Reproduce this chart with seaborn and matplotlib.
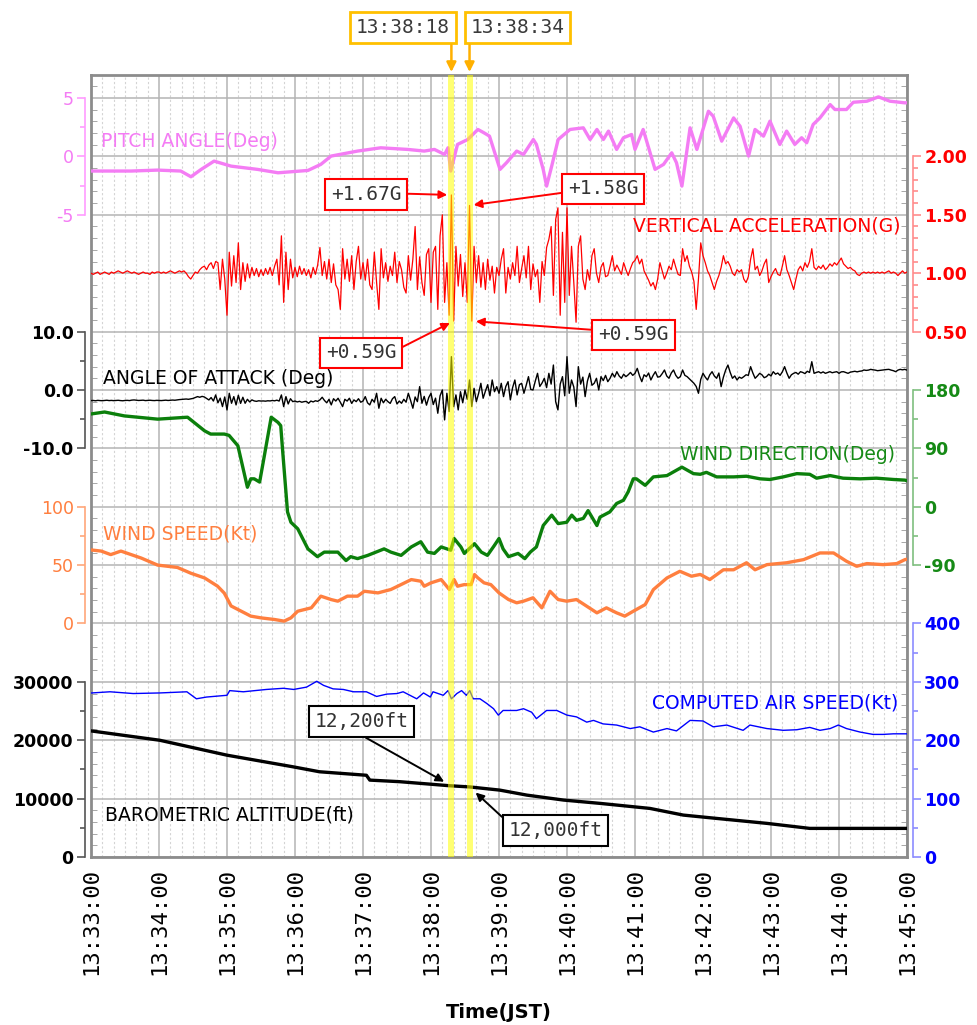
import matplotlib
matplotlib.use('Agg')
import matplotlib.pyplot as plt
import seaborn as sns
from matplotlib.ticker import MultipleLocator

# ---- data (time in minutes after 13:33:00 JST) ----
time_labels = ['13:33:00', '13:34:00', '13:35:00', '13:36:00', '13:37:00', '13:38:00', '13:39:00',
               '13:40:00', '13:41:00', '13:42:00', '13:43:00', '13:44:00', '13:45:00']

pitch_t = [0, 0.59, 0.98, 1.32, 1.47, 1.62, 1.81, 2.06, 2.45, 2.75,
           3.19, 3.38, 3.53, 3.92, 4.26, 4.66, 4.90, 5.05, 5.20, 5.25,
           5.29, 5.39, 5.54, 5.69, 5.78, 5.86, 6.015, 6.11, 6.26, 6.36,
           6.505, 6.55, 6.65, 6.70, 6.775, 6.87, 7.045, 7.24, 7.34, 7.44,
           7.535, 7.61, 7.73, 7.83, 7.95, 8.0, 8.12, 8.295, 8.42, 8.54,
           8.61, 8.69, 8.81, 8.91, 9.08, 9.15, 9.275, 9.45, 9.545, 9.67,
           9.765, 9.89, 9.985, 10.13, 10.23, 10.35, 10.45, 10.525, 10.62, 10.72,
           10.87, 10.94, 11.11, 11.21, 11.41, 11.58, 11.75, 11.97, 12.0]
pitch_deg = [-1.25, -1.25, -1.17, -1.25, -1.74, -1.11, -0.4, -0.83, -1.11, -1.4,
             -1.2, -0.68, 0.03, 0.46, 0.74, 0.6, 0.46, 0.6, 0.17, 0.74,
             -1.25, 1.03, 1.45, 2.31, 2.02, 1.74, -1.11, -0.54, 0.46, 0.17,
             1.45, 1.03, -1.11, -2.54, -0.83, 1.45, 2.31, 2.45, 1.45, 2.31,
             1.45, 2.17, 0.6, 1.6, 1.88, 0.6, 2.31, -1.11, -0.68, 0.31,
             -0.54, -2.54, 2.45, 0.6, 3.87, 3.45, 1.31, 3.3, 2.59, 0.03,
             2.31, 1.74, 3.02, 1.03, 2.17, 1.03, 1.6, 1.17, 2.74, 3.3,
             4.44, 4.02, 4.02, 4.64, 4.73, 5.1, 4.73, 4.59, 4.6]

# vertical acceleration and angle of attack: one sample every 2 s from 13:33:00 (one row per minute)
sample_step_s = 2
accel_g = [
    1.00, 0.99, 1.00, 1.01, 0.99, 1.00, 1.01, 1.00, 0.99, 1.01, 1.00, 1.01, 1.02, 1.01, 1.00,
    1.01, 1.02, 1.01, 1.00, 1.01, 1.00, 0.99, 1.00, 1.01, 1.00, 1.00, 0.99, 1.01, 1.00, 1.01,
    1.01, 1.00, 1.01, 1.00, 1.01, 1.02, 1.01, 1.00, 1.01, 1.02, 1.01, 1.02, 1.00, 0.97, 0.95,
    0.98, 1.01, 1.00, 1.03, 1.05, 1.06, 1.03, 1.07, 1.09, 1.04, 1.10, 1.09, 0.86, 1.12, 0.95,
    0.64, 1.18, 0.89, 1.15, 0.92, 1.26, 0.86, 1.09, 0.93, 1.08, 0.96, 1.05, 0.98, 1.04, 0.97,
    1.03, 0.98, 1.04, 0.99, 1.05, 0.98, 1.06, 1.12, 0.90, 1.32, 0.75, 1.18, 0.86, 1.12, 0.96,
    1.05, 0.97, 1.06, 0.99, 1.04, 0.98, 1.03, 0.96, 1.05, 0.99, 1.07, 1.22, 0.98, 1.10, 0.95,
    1.12, 0.92, 1.08, 0.90, 0.86, 0.69, 1.21, 0.95, 1.12, 0.93, 1.15, 0.86, 1.10, 1.23, 0.95,
    1.09, 0.94, 1.12, 0.90, 0.86, 1.18, 0.92, 0.69, 1.21, 0.96, 1.09, 0.93, 1.06, 0.98, 1.18,
    0.92, 1.10, 1.03, 0.88, 0.83, 1.15, 0.94, 1.12, 1.40, 0.86, 1.14, 0.92, 0.81, 1.16, 1.21,
    0.75, 1.18, 1.23, 0.69, 1.32, 1.50, 0.75, 1.09, 0.64, 1.67, 0.59, 1.23, 0.89, 1.16, 0.80,
    1.09, 0.75, 1.58, 0.59, 1.23, 0.92, 1.15, 0.88, 1.09, 0.86, 1.12, 0.94, 1.06, 0.83, 1.05,
    0.98, 1.12, 1.21, 0.83, 1.05, 0.95, 1.09, 0.98, 1.23, 0.92, 1.04, 1.15, 0.96, 1.23, 0.86,
    1.08, 0.97, 1.03, 0.75, 1.10, 0.98, 1.22, 1.29, 1.40, 0.81, 1.46, 1.56, 0.64, 1.35, 0.75,
    1.56, 0.81, 1.23, 0.92, 0.58, 1.23, 1.32, 0.95, 0.86, 1.03, 0.94, 1.15, 1.21, 1.00, 0.92,
    1.05, 1.09, 0.97, 0.98, 1.06, 1.15, 1.02, 1.07, 1.03, 0.99, 1.09, 1.03, 0.98, 1.04, 1.09,
    1.11, 1.15, 1.08, 1.12, 1.02, 0.98, 0.94, 0.89, 0.92, 0.86, 0.95, 1.09, 1.02, 0.95, 1.00,
    1.06, 1.03, 1.12, 1.05, 0.99, 0.98, 1.21, 1.10, 1.15, 1.06, 1.01, 0.93, 0.69, 0.95, 1.26,
    1.15, 1.09, 1.02, 0.98, 0.92, 0.86, 0.93, 0.98, 1.05, 1.15, 1.08, 1.10, 1.06, 1.00, 0.98,
    1.03, 1.01, 1.03, 0.95, 0.92, 0.97, 1.12, 1.21, 1.03, 1.06, 0.98, 1.02, 1.08, 1.12, 0.92,
    0.97, 1.01, 1.04, 0.99, 0.98, 1.06, 1.15, 1.03, 0.98, 0.92, 0.86, 0.95, 1.03, 1.06, 1.02,
    1.09, 1.05, 1.10, 1.21, 1.05, 1.03, 1.06, 1.04, 1.07, 1.03, 1.05, 1.08, 1.06, 1.09, 1.07,
    1.10, 1.13, 1.08, 1.06, 1.04, 1.05, 1.03, 1.02, 0.99, 0.98, 1.00, 1.01, 1.00, 1.01, 1.00,
    1.01, 1.00, 1.01, 1.00, 1.01, 1.00, 1.01, 1.02, 1.00, 1.01, 1.00, 0.98, 1.00, 1.02, 1.00,
    1.01]
aoa_deg = [
    -1.82, -1.80, -1.85, -1.78, -1.82, -1.84, -1.80, -1.76, -1.82, -1.79, -1.83, -1.80, -1.77, -1.82, -1.85,
    -1.80, -1.78, -1.82, -1.74, -1.71, -1.76, -1.80, -1.78, -1.75, -1.82, -1.79, -1.76, -1.80, -1.82, -1.78,
    -1.80, -1.82, -1.78, -1.75, -1.80, -1.77, -1.73, -1.76, -1.70, -1.65, -1.62, -1.58, -1.55, -1.60, -1.52,
    -1.45, -1.30, -1.14, -1.25, -1.10, -1.20, -1.45, -1.71, -1.30, -1.90, -0.85, -2.20, -1.40, -2.85, -1.20,
    -3.42, -0.57, -2.28, -1.14, -2.56, -0.90, -2.30, -1.25, -2.28, -1.60, -2.05, -1.70, -1.88, -1.95, -1.85,
    -1.90, -1.88, -1.92, -1.85, -1.88, -1.80, -1.86, -1.75, -1.90, -0.85, -2.85, -1.14, -2.40, -1.50, -2.00,
    -1.90, -2.05, -1.95, -2.10, -2.00, -1.95, -2.28, -1.90, -2.05, -1.85, -1.95, -1.70, -1.25, -1.80, -2.20,
    -1.60, -2.56, -1.50, -1.90, -1.42, -2.10, -2.85, -1.60, -1.90, -1.42, -2.30, -1.70, -2.00, -1.50, -2.10,
    -1.90, -1.14, -2.20, -2.56, -1.60, -2.10, -0.57, -3.13, -1.42, -2.20, -1.60, -2.00, -2.30, -1.50, -1.14,
    -2.40, -1.90, -2.28, -1.60, -2.10, -0.57, -1.80, -3.13, -1.20, -2.00, 0.57, -2.28, -1.10, -2.60, -1.30,
    -0.57, -2.50, -1.40, -3.99, -1.00, 0.00, -5.13, -0.57, -3.70, 5.70, -2.85, -0.85, -3.42, -0.30, -2.20,
    0.00, -1.60, 1.71, -2.85, 0.28, -2.00, -0.60, 1.14, -1.42, -0.20, 0.90, -1.00, 1.71, -0.30, 0.57,
    -0.57, 1.14, -1.14, 0.60, 1.42, -1.71, 0.40, 1.71, -0.85, 0.90, 1.14, -0.57, 0.80, 2.28, 0.10,
    0.00, 1.50, 2.85, 0.60, 1.20, 2.00, 0.40, 2.85, 1.00, 4.27, -2.00, -3.42, 1.00, 2.28, -1.00,
    5.70, -0.57, 1.71, 0.50, -2.85, 3.99, 1.00, 2.20, -1.14, 1.50, 2.85, 0.80, 1.14, 2.00, 0.00,
    2.28, 1.60, 2.50, 1.42, 2.00, 2.85, 2.20, 3.13, 2.40, 2.00, 2.70, 2.28, 2.60, 3.00, 2.50,
    2.85, 3.70, 2.40, 1.42, 2.60, 2.28, 2.90, 1.71, 2.50, 3.13, 2.20, 2.28, 2.80, 3.42, 2.40,
    2.00, 2.90, 3.42, 2.50, 2.00, 2.28, 3.42, 2.50, 2.28, 1.90, 1.50, 1.14, 0.60, -0.57, 1.80,
    2.85, 2.20, 1.71, 2.60, 3.13, 2.40, 2.00, 2.90, 0.57, 2.20, 3.42, 4.27, 3.00, 2.00, 2.40,
    1.71, 2.20, 2.00, 2.28, 2.60, 2.50, 3.99, 2.90, 2.00, 2.40, 2.85, 2.60, 2.10, 2.28, 2.70,
    2.40, 3.13, 2.70, 2.90, 2.50, 3.10, 3.99, 2.90, 2.00, 2.60, 2.85, 3.00, 2.70, 3.13, 3.00,
    2.80, 3.20, 3.00, 4.84, 2.85, 3.00, 3.13, 2.90, 3.10, 2.85, 3.00, 3.13, 2.95, 3.05, 3.13,
    2.85, 3.10, 3.13, 3.00, 2.85, 3.05, 3.13, 3.20, 3.10, 3.20, 3.25, 3.42, 3.35, 3.40, 3.53,
    3.45, 3.40, 3.30, 3.35, 3.40, 3.45, 3.50, 3.53, 3.40, 3.30, 3.13, 3.40, 3.53, 3.45, 3.53,
    3.40]

wdir_t = [0, 0.2, 0.49, 0.98, 1.42, 1.67, 1.76, 1.96, 2.03, 2.16,
          2.30, 2.35, 2.40, 2.48, 2.55, 2.65, 2.75, 2.79, 2.82, 2.89,
          2.94, 3.04, 3.19, 3.33, 3.43, 3.63, 3.75, 3.82, 3.92, 4.07,
          4.31, 4.41, 4.56, 4.71, 4.85, 4.95, 5.05, 5.15, 5.29, 5.34,
          5.44, 5.49, 5.59, 5.64, 5.74, 5.83, 5.93, 6.0, 6.06, 6.14,
          6.28, 6.38, 6.46, 6.55, 6.65, 6.775, 6.87, 6.995, 7.07, 7.14,
          7.24, 7.31, 7.44, 7.485, 7.63, 7.73, 7.83, 7.90, 7.975, 8.02,
          8.15, 8.27, 8.47, 8.69, 8.86, 8.96, 9.05, 9.2, 9.45, 9.64,
          9.84, 9.985, 10.18, 10.38, 10.57, 10.67, 10.87, 11.06, 11.31, 11.55,
          11.8, 11.97, 12.0]
wdir_deg = [143, 146, 140, 135, 138, 117, 112, 112, 110, 94,
            30, 43, 43, 38, 79, 138, 130, 125, 84, -8,
            -24, -34, -65, -77, -70, -70, -83, -77, -80, -75,
            -65, -70, -75, -62, -54, -70, -72, -62, -67, -49,
            -62, -72, -62, -57, -70, -75, -60, -49, -65, -77,
            -72, -80, -70, -62, -29, -13, -26, -24, -13, -21,
            -18, -6, -29, -16, -8, 5, 10, 23, 43, 43,
            33, 46, 48, 61, 51, 50, 53, 46, 46, 47,
            43, 42, 46, 51, 50, 44, 48, 44, 43, 44,
            42, 41, 40]

wspd_t = [0, 0.15, 0.29, 0.44, 0.74, 0.98, 1.27, 1.47, 1.67, 1.86,
          1.96, 2.06, 2.21, 2.35, 2.50, 2.70, 2.84, 2.94, 3.04, 3.24,
          3.38, 3.53, 3.63, 3.77, 3.92, 4.02, 4.22, 4.41, 4.51, 4.71,
          4.85, 4.90, 5.0, 5.15, 5.27, 5.34, 5.39, 5.49, 5.59, 5.64,
          5.69, 5.78, 5.88, 6.0, 6.14, 6.26, 6.36, 6.5, 6.63, 6.75,
          6.87, 6.995, 7.14, 7.29, 7.44, 7.58, 7.73, 7.85, 7.975, 8.15,
          8.27, 8.47, 8.66, 8.83, 8.96, 9.1, 9.3, 9.45, 9.64, 9.765,
          9.94, 10.23, 10.48, 10.72, 10.92, 11.11, 11.26, 11.41, 11.65, 11.85,
          11.97, 12.0]
wspd_kt = [63, 62, 59, 62, 56, 50, 48, 43, 39, 32,
           26, 15, 10.5, 6.3, 4.8, 3.4, 2.0, 4.8, 10.5, 13.4,
           23.4, 20.5, 19.1, 23.4, 23.4, 27.6, 26.2, 29.1, 31.9, 37.6,
           36.2, 31.9, 34.8, 37.6, 29.1, 37.6, 31.9, 33.3, 33.3, 41.9,
           39, 34.8, 33.3, 26.2, 20.5, 17.7, 19.1, 22, 13.4, 27.6,
           20.5, 19.1, 20.5, 14.8, 9.1, 13.4, 9.1, 6.3, 10.5, 16.2,
           29, 39, 44.7, 40.5, 42, 37.6, 46, 46, 52, 46,
           50.4, 52, 54.7, 60.4, 60.4, 53.3, 49, 51.3, 50.4, 51.3,
           54.7, 55]

cas_t = [0.01, 0.28, 0.62, 1.01, 1.41, 1.55, 1.70, 2.0, 2.04, 2.24,
         2.58, 2.83, 2.98, 3.17, 3.32, 3.42, 3.56, 3.71, 3.86, 4.05,
         4.20, 4.35, 4.50, 4.59, 4.79, 4.89, 4.99, 5.03, 5.18, 5.25,
         5.30, 5.38, 5.45, 5.52, 5.57, 5.62, 5.72, 5.82, 5.92, 5.99,
         6.06, 6.26, 6.36, 6.48, 6.55, 6.70, 6.85, 7.0, 7.14, 7.29,
         7.39, 7.53, 7.73, 7.93, 8.07, 8.27, 8.47, 8.61, 8.81, 9.0,
         9.15, 9.35, 9.59, 9.69, 9.94, 10.18, 10.38, 10.57, 10.72, 10.87,
         10.99, 11.11, 11.31, 11.5, 11.65, 11.8, 12.0]
cas_kt = [281, 283, 280, 281, 283, 271, 274, 277, 285, 283,
          287, 289, 287, 291, 301, 294, 288, 287, 283, 283,
          275, 279, 280, 283, 271, 281, 274, 283, 277, 285,
          271, 280, 285, 277, 285, 271, 271, 263, 254, 243,
          251, 251, 254, 248, 237, 251, 251, 243, 240, 231,
          234, 228, 226, 220, 223, 214, 220, 216, 234, 233,
          223, 226, 217, 226, 220, 217, 218, 222, 217, 220,
          226, 220, 214, 210, 210, 211, 211]

alt_t = [0.0, 1.01, 2.0, 2.97, 3.36, 4.05, 4.10, 4.54, 5.28, 5.57, 6.01,
         6.41, 6.95, 7.49, 8.22, 8.71, 9.2, 9.94, 10.57, 11.16, 12.0]
alt_ft = [21600, 20000, 17440, 15450, 14600, 14000, 13170, 12900, 12200, 12000, 11460,
          10600, 9750, 9180, 8320, 7180, 6610, 5760, 4900, 4900, 4900]

event_t = [5.30, 5.5667]
event_labels = ['13:38:18', '13:38:34']
g_mark_t = [5.30, 5.5667, 5.3333, 5.60]
g_mark_val = [1.67, 1.58, 0.59, 0.59]
g_mark_text = ['+1.67G', '+1.58G', '+0.59G', '+0.59G']
alt_mark_t = [5.30, 5.5667]
alt_mark_val = [12200, 12000]
alt_mark_text = ['12,200ft', '12,000ft']

accel_t = [i * sample_step_s / 60 for i in range(len(accel_g))]
aoa_t = [i * sample_step_s / 60 for i in range(len(aoa_deg))]

# ---- figure ----
W, H = 977, 1025
ROW = 58.38                 # pixels per grid row
TOP = 782 / ROW             # rows in plot height

fig = plt.figure(figsize=(W / 100, H / 100), dpi=100)
ax = fig.add_axes([91 / W, 1 - 857 / H, 816 / W, 782 / H])
ax.set_xlim(0, 12)
ax.set_ylim(0, TOP)


def scaled_axis(side, v0, row0, per_row, ticks, labels, minor, spine_c, label_c, weight):
    tw = ax.twinx()
    tw.set_ylim(v0 - row0 * per_row, v0 + (TOP - row0) * per_row)
    for s in tw.spines.values():
        s.set_visible(False)
    sp = tw.spines[side]
    sp.set_visible(True)
    sp.set_position(('outward', 4.5))
    sp.set_bounds(ticks[0], ticks[-1])
    sp.set_color(spine_c)
    sp.set_linewidth(1.2)
    if side == 'left':
        tw.yaxis.tick_left()
    tw.set_yticks(ticks, labels=labels)
    tw.set_yticks(minor, minor=True)
    tw.tick_params(axis='y', which='both', colors=spine_c, labelcolor=label_c,
                   width=1.2, direction='out')
    tw.tick_params(axis='y', which='major', length=6, pad=2, labelsize=12.5)
    tw.tick_params(axis='y', which='minor', length=3.5)
    for t in tw.get_yticklabels():
        t.set_fontweight(weight)
    return tw


PINK, RED, GREEN, ORANGE, BLUE = '#f47cf4', '#ff0000', '#0b7f0b', '#ff7f3f', '#0000ff'

ax_pitch = scaled_axis('left', 0, 12, 5, [-5, 0, 5], ['-5', '0', '5'], [-2.5, 2.5],
                       '#ff9cff', PINK, 'normal')
ax_acc = scaled_axis('right', 1.0, 10, 0.5, [0.5, 1.0, 1.5, 2.0], ['0.50', '1.00', '1.50', '2.00'],
                     [0.6, 0.7, 0.8, 0.9, 1.1, 1.2, 1.3, 1.4, 1.6, 1.7, 1.8, 1.9],
                     '#ff8c8c', RED, 'bold')
ax_aoa = scaled_axis('left', 0, 8, 10, [-10, 0, 10], ['-10.0', '0.0', '10.0'], [-5, 5],
                     '#555555', 'black', 'bold')
ax_wd = scaled_axis('right', 0, 6, 90, [-90, 0, 90, 180], ['-90', '0', '90', '180'],
                    [-45, 45, 135], '#7fbf7f', '#168a16', 'bold')
ax_ws = scaled_axis('left', 0, 4, 50, [0, 50, 100], ['0', '50', '100'], [25, 75],
                    '#ffa77a', ORANGE, 'normal')
ax_cas = scaled_axis('right', 0, 0, 100, [0, 100, 200, 300, 400], ['0', '100', '200', '300', '400'],
                     [50, 150, 250, 350], '#8c8cff', BLUE, 'bold')
ax_alt = scaled_axis('left', 0, 0, 10000, [0, 10000, 20000, 30000],
                     ['0', '10000', '20000', '30000'], [5000, 15000, 25000],
                     '#555555', 'black', 'bold')

sns.lineplot(x=pitch_t, y=pitch_deg, ax=ax_pitch, color=PINK, linewidth=2.4, estimator=None)
sns.lineplot(x=accel_t, y=accel_g, ax=ax_acc, color=RED, linewidth=0.9, estimator=None)
sns.lineplot(x=aoa_t, y=aoa_deg, ax=ax_aoa, color='black', linewidth=1.0, estimator=None)
sns.lineplot(x=wdir_t, y=wdir_deg, ax=ax_wd, color=GREEN, linewidth=2.4, estimator=None)
sns.lineplot(x=wspd_t, y=wspd_kt, ax=ax_ws, color=ORANGE, linewidth=2.4, estimator=None)
sns.lineplot(x=cas_t, y=cas_kt, ax=ax_cas, color=BLUE, linewidth=1.0, estimator=None)
sns.lineplot(x=alt_t, y=alt_ft, ax=ax_alt, color='black', linewidth=2.4, estimator=None)

# overlay axis for bands and annotations
top = ax.twinx()
top.set_ylim(0, TOP)
top.axis('off')

for t in event_t:
    top.axvline(t, color='#ffff00', linewidth=4.3, alpha=0.55, zorder=5)

for t, lbl, cx in zip(event_t, event_labels, [403, 517.5]):
    top.text(cx / W, 1 - 27.5 / H, lbl, transform=fig.transFigure, ha='center', va='center',
             family='DejaVu Sans Mono', fontsize=14, color='#3a3a3a',
             bbox=dict(boxstyle='square,pad=0.3', fc='white', ec='#ffc000', lw=2))
    top.annotate('', xy=(t, (857 - 72) / 782), xycoords=('data', 'axes fraction'),
                 xytext=(t, (857 - 45) / 782), textcoords=('data', 'axes fraction'),
                 arrowprops=dict(arrowstyle='-|>', color='#ffb000', lw=1.8,
                                 mutation_scale=14, shrinkA=0, shrinkB=0))

g_box_pos = [(366, 194.5), (603, 189), (361, 353), (633.5, 335)]
g_relpos = [(1, 0.55), (0, 0.34), (1, 0.65), (0, 0.75)]
for t, v, lbl, (bx, by), rp in zip(g_mark_t, g_mark_val, g_mark_text, g_box_pos, g_relpos):
    top.annotate(lbl, xy=(t, v), xycoords=ax_acc.transData,
                 xytext=(bx, H - by), textcoords='figure pixels', ha='center', va='center',
                 family='DejaVu Sans Mono', fontsize=14, color='#333333', zorder=6,
                 bbox=dict(boxstyle='square,pad=0.3', fc='white', ec='red', lw=1.5),
                 arrowprops=dict(arrowstyle='-|>', color='red', lw=1.4, mutation_scale=12,
                                 shrinkA=0, shrinkB=3, relpos=rp))

alt_box_pos = [(361.5, 721.5), (555.5, 830.5)]
alt_relpos = [(0.42, 0), (0, 0.9)]
for t, v, lbl, (bx, by), rp in zip(alt_mark_t, alt_mark_val, alt_mark_text, alt_box_pos, alt_relpos):
    top.annotate(lbl, xy=(t, v), xycoords=ax_alt.transData,
                 xytext=(bx, H - by), textcoords='figure pixels', ha='center', va='center',
                 family='DejaVu Sans Mono', fontsize=14, color='#333333', zorder=6,
                 bbox=dict(boxstyle='square,pad=0.3', fc='white', ec='black', lw=1.5),
                 arrowprops=dict(arrowstyle='-|>', color='black', lw=1.4, mutation_scale=12,
                                 shrinkA=0, shrinkB=6, relpos=rp))

# series names
name_fs = 13.5
top.text(0.147, 12.25, 'PITCH ANGLE(Deg)', color=PINK, fontsize=name_fs, va='center')
top.text(11.90, 10.81, 'VERTICAL ACCELERATION(G)', color=RED, fontsize=name_fs, va='center', ha='right')
top.text(0.176, 8.19, 'ANGLE OF ATTACK (Deg)', color='black', fontsize=name_fs, va='center')
top.text(11.82, 6.886, 'WIND DIRECTION(Deg)', color='#168a16', fontsize=name_fs, va='center', ha='right')
top.text(0.176, 5.53, 'WIND SPEED(Kt)', color=ORANGE, fontsize=name_fs, va='center')
top.text(11.87, 2.63, 'COMPUTED AIR SPEED(Kt)', color=BLUE, fontsize=name_fs, va='center', ha='right')
top.text(0.206, 0.72, 'BAROMETRIC ALTITUDE(ft)', color='black', fontsize=name_fs, va='center')

# grid frame (configured last: twinx resets the left/right ticks)
ax.set_xticks(range(13), labels=time_labels, rotation=90, fontfamily='DejaVu Sans Mono', fontsize=16)
ax.xaxis.set_minor_locator(MultipleLocator(1 / 6))
ax.tick_params(axis='x', which='both', length=0, pad=8)
ax.set_yticks(range(14))
ax.yaxis.set_minor_locator(MultipleLocator(0.2))
ax.tick_params(axis='y', which='major', length=0, labelleft=False, labelright=False)
ax.tick_params(axis='y', which='minor', left=True, right=True, direction='in',
               length=4, color='#999999')
ax.grid(which='major', color='#b4b4b4', linewidth=1.1)
ax.grid(which='minor', axis='x', color='#d4d4d4', linewidth=0.8, linestyle=(0, (2, 2)))
ax.set_axisbelow(True)
for s in ax.spines.values():
    s.set_color('#8c8c8c')
    s.set_linewidth(2)
ax.set_xlabel('Time(JST)', fontsize=14, fontweight='bold', labelpad=20)

fig.savefig('out.png', dpi=100)
